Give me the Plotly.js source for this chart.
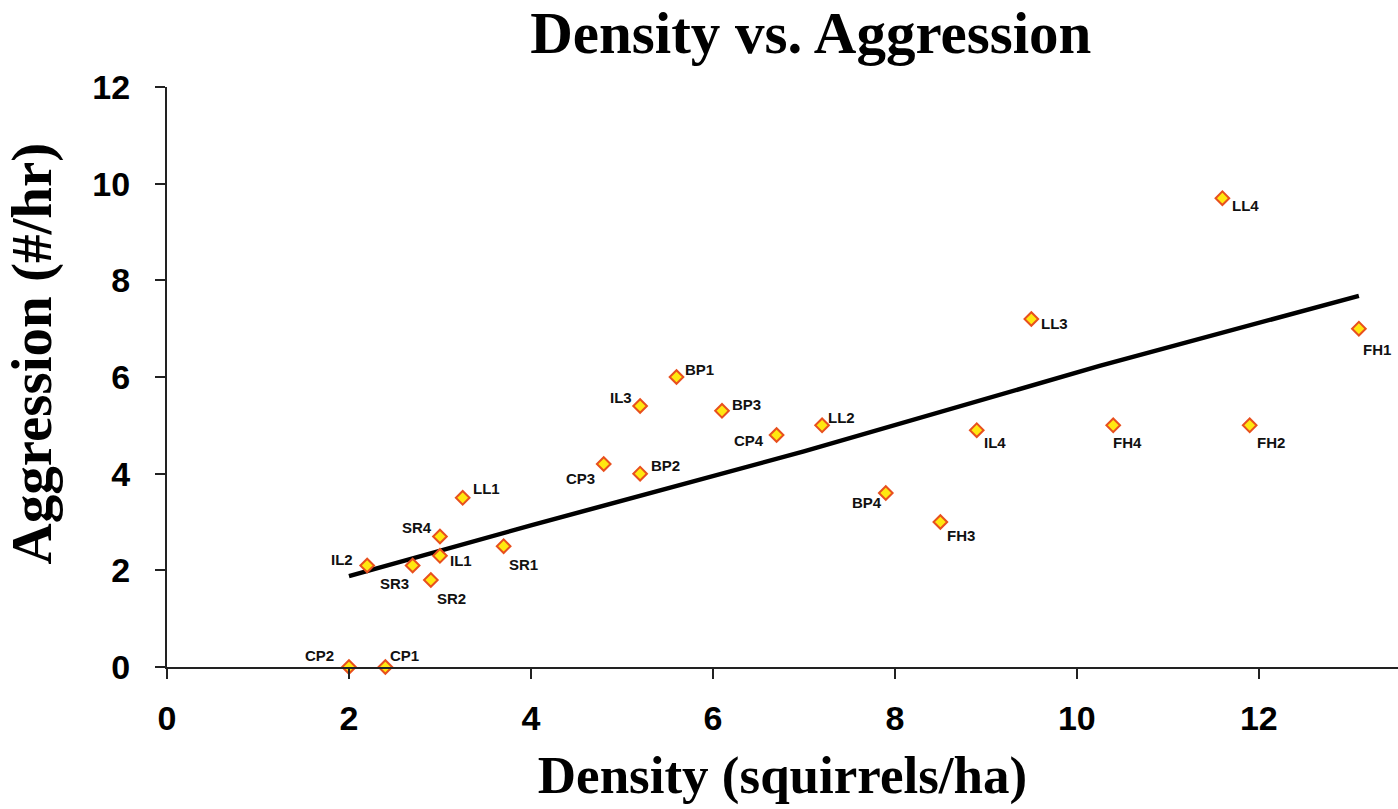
<!DOCTYPE html>
<html>
<head>
<meta charset="utf-8">
<script src="https://cdn.plot.ly/plotly-3.0.1.min.js"></script>
<style>
  html, body { margin: 0; padding: 0; background: #ffffff; }
  #chart { width: 1398px; height: 809px; }
</style>
</head>
<body>
<div id="chart"></div>
<script>
// ---- data ----
const sites = ['CP2','CP1','IL2','SR3','SR2','IL1','SR4','LL1','SR1','CP3','BP2','IL3','BP1','BP3','CP4','LL2','BP4','FH3','IL4','LL3','FH4','LL4','FH2','FH1'];
const density = [2.0, 2.4, 2.2, 2.7, 2.9, 3.0, 3.0, 3.25, 3.7, 4.8, 5.2, 5.2, 5.6, 6.1, 6.7, 7.2, 7.9, 8.5, 8.9, 9.5, 10.4, 11.6, 11.9, 13.1];
const aggression = [0, 0, 2.1, 2.1, 1.8, 2.3, 2.7, 3.5, 2.5, 4.2, 4.0, 5.4, 6.0, 5.3, 4.8, 5.0, 3.6, 3.0, 4.9, 7.2, 5.0, 9.7, 5.0, 7.0];

// trend line
const trendX = [2.0, 4.0, 7.0, 10.25, 13.1];
const trendY = [1.88, 2.93, 4.46, 6.23, 7.68];

const xTicks = [0, 2, 4, 6, 8, 10, 12];
const yTicks = [0, 2, 4, 6, 8, 10, 12];

// label placement (pixel offsets of the label centre from its marker)
const labelShift = {
  CP2: [-29, -12], CP1: [19, -12], IL2: [-25, -6], SR3: [-18, 18], SR2: [21, 18],
  IL1: [21, 5], SR4: [-23, -9], LL1: [24, -9], SR1: [20, 18], CP3: [-23, 14],
  BP2: [25, -8], IL3: [-19, -9], BP1: [23, -8], BP3: [24, -6], CP4: [-28, 5],
  LL2: [19, -8], BP4: [-19, 9], FH3: [21, 13], IL4: [18, 12], LL3: [23, 4],
  FH4: [14, 17], LL4: [23, 7], FH2: [21, 17], FH1: [18, 21]
};

const sansBold = 'Liberation Sans, Arial, sans-serif';
const serif = 'Liberation Serif, Times New Roman, serif';

const trendTrace = {
  x: trendX, y: trendY, type: 'scatter', mode: 'lines',
  line: { color: '#000000', width: 4.5 },
  hoverinfo: 'skip', showlegend: false, cliponaxis: false
};

const pointTrace = {
  x: density, y: aggression, text: sites, type: 'scatter', mode: 'markers',
  marker: { symbol: 'diamond', size: 10.5, color: '#FFE810', line: { color: '#E8501E', width: 2 } },
  showlegend: false, cliponaxis: false
};

const annotations = sites.map((s, i) => ({
  x: density[i], y: aggression[i], xref: 'x', yref: 'y',
  text: s, showarrow: false,
  xanchor: 'center', yanchor: 'middle',
  xshift: labelShift[s][0], yshift: -labelShift[s][1],
  font: { family: sansBold, size: 15, color: '#111111', weight: 'bold' }
}));

annotations.push({
  text: 'Aggression (#/hr)', xref: 'paper', yref: 'paper',
  x: -0.11, y: 0.54, xanchor: 'center', yanchor: 'middle',
  textangle: -90, showarrow: false,
  font: { family: serif, size: 57, color: '#000000', weight: 'bold' }
});

const layout = {
  width: 1398, height: 809,
  margin: { l: 167, r: 0, t: 87, b: 142 },
  paper_bgcolor: '#ffffff', plot_bgcolor: '#ffffff',
  title: {
    text: 'Density vs. Aggression',
    font: { family: serif, size: 59, color: '#000000', weight: 'bold' },
    xref: 'paper', x: 0.523, xanchor: 'center',
    yref: 'container', y: 0.96, yanchor: 'middle'
  },
  xaxis: {
    range: [0, 13.53], tickvals: xTicks, ticktext: xTicks.map(String),
    showgrid: false, zeroline: false,
    showline: true, linecolor: '#222222', linewidth: 2,
    ticks: 'outside', ticklen: 10, tickwidth: 2, tickcolor: '#222222',
    ticklabelstandoff: 10,
    tickfont: { family: sansBold, size: 34, color: '#000000', weight: 'bold' },
    title: { text: 'Density (squirrels/ha)', standoff: 20,
      font: { family: serif, size: 53, color: '#000000', weight: 'bold' } },
    automargin: false
  },
  yaxis: {
    range: [0, 12], tickvals: yTicks, ticktext: yTicks.map(String),
    showgrid: false, zeroline: false,
    showline: true, linecolor: '#222222', linewidth: 2,
    ticks: 'outside', ticklen: 10, tickwidth: 2, tickcolor: '#222222',
    ticklabelstandoff: 18,
    tickfont: { family: sansBold, size: 34, color: '#000000', weight: 'bold' },
    automargin: false
  },
  annotations: annotations
};

Plotly.newPlot('chart', [trendTrace, pointTrace], layout, { displayModeBar: false, staticPlot: true });
</script>
</body>
</html>
